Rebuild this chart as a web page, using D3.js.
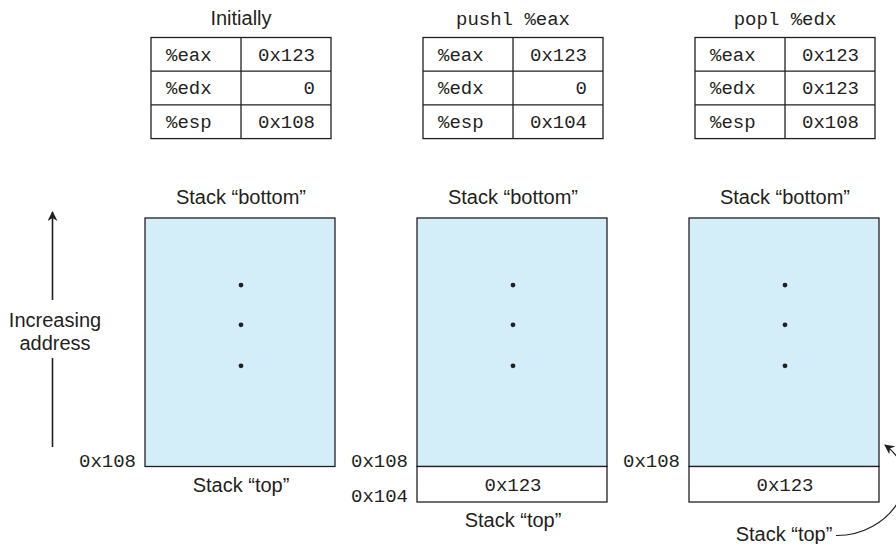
<!DOCTYPE html>
<html>
<head>
<meta charset="utf-8">
<script src="https://cdn.jsdelivr.net/npm/d3@7"></script>
<style>
  body { margin: 0; background: #fff; }
  svg { display: block; }
</style>
</head>
<body>
<div id="chart"></div>
<script>
// data
const steps = ["Initially", "pushl %eax", "popl %edx"];
const stepIsCode = [false, true, true];
const registers = ["%eax", "%edx", "%esp"];
const regValues = [
    ["0x123", "0", "0x108"],
    ["0x123", "0", "0x104"],
    ["0x123", "0x123", "0x108"],
];
// what sits below the stack region in each step: [address, value] or null
const pushedCell = [null, ["0x104", "0x123"], ["0x104", "0x123"]];
const addrLabels = [["0x108"], ["0x108", "0x104"], ["0x108"]];
const topLabelAddr = ["0x108", "0x104", null];
const stackBaseAddr = 0x124;

const width = 896, height = 544;
const ink = "#231f20";
const blue = "#d3edf9";
const sans = "'Liberation Sans', Arial, sans-serif";
const mono = "'Liberation Mono', 'DejaVu Sans Mono', monospace";
const sansSize = "20px", monoSize = "19px";

const svg = d3.select("#chart")
    .append("svg")
    .attr("width", width)
    .attr("height", height);

// panel centers
const x = d3.scaleBand()
    .domain(steps)
    .range([105, 921]);
const cx = d => x(d) + x.bandwidth() / 2;

// address -> y
const y = d3.scaleLinear()
    .domain([0x104, stackBaseAddr])
    .range([502, 218]);

// register tables
const tableW = 180, rowH = 33.7, tableTop = 37.5, colSplit = 90;

steps.forEach((s, i) => {
    const g = svg.append("g")
        .attr("transform", `translate(${cx(s) - tableW / 2}, ${tableTop})`);

    svg.append("text")
        .attr("x", cx(s))
        .attr("y", 25)
        .attr("text-anchor", "middle")
        .style("font-family", stepIsCode[i] ? mono : sans)
        .style("font-size", stepIsCode[i] ? monoSize : sansSize)
        .style("fill", ink)
        .text(s);

    g.append("rect")
        .attr("width", tableW)
        .attr("height", rowH * registers.length)
        .attr("fill", "none")
        .attr("stroke", ink)
        .attr("stroke-width", 1.3);

    g.append("line")
        .attr("x1", colSplit).attr("x2", colSplit)
        .attr("y1", 0).attr("y2", rowH * registers.length)
        .attr("stroke", ink).attr("stroke-width", 1.3);

    g.selectAll("line.row")
        .data(registers.slice(1))
        .join("line")
        .attr("class", "row")
        .attr("x1", 0).attr("x2", tableW)
        .attr("y1", (d, j) => rowH * (j + 1))
        .attr("y2", (d, j) => rowH * (j + 1))
        .attr("stroke", ink).attr("stroke-width", 1.3);

    g.selectAll("text.reg")
        .data(registers)
        .join("text")
        .attr("class", "reg")
        .attr("x", 15)
        .attr("y", (d, j) => rowH * j + 23)
        .style("font-family", mono)
        .style("font-size", monoSize)
        .style("fill", ink)
        .text(d => d);

    g.selectAll("text.val")
        .data(regValues[i])
        .join("text")
        .attr("class", "val")
        .attr("x", tableW - 16)
        .attr("y", (d, j) => rowH * j + 23)
        .attr("text-anchor", "end")
        .style("font-family", mono)
        .style("font-size", monoSize)
        .style("fill", ink)
        .text(d => d);
});

// stacks
const stackW = 190;

steps.forEach((s, i) => {
    const left = cx(s) - stackW / 2 - 1;

    svg.append("text")
        .attr("x", cx(s))
        .attr("y", 204)
        .attr("text-anchor", "middle")
        .style("font-family", sans)
        .style("font-size", sansSize)
        .style("fill", ink)
        .text("Stack \u201cbottom\u201d");

    svg.append("rect")
        .attr("x", left)
        .attr("y", y(stackBaseAddr))
        .attr("width", stackW)
        .attr("height", y(0x108) - y(stackBaseAddr))
        .attr("fill", blue)
        .attr("stroke", ink)
        .attr("stroke-width", 1.3);

    // ellipsis dots
    svg.selectAll(null)
        .data([0.27, 0.43, 0.595])
        .join("circle")
        .attr("cx", cx(s))
        .attr("cy", f => y(stackBaseAddr) + f * (y(0x108) - y(stackBaseAddr)))
        .attr("r", 2.4)
        .attr("fill", ink);

    if (pushedCell[i]) {
        const a = parseInt(pushedCell[i][0], 16);
        svg.append("rect")
            .attr("x", left)
            .attr("y", y(a + 4))
            .attr("width", stackW)
            .attr("height", y(a) - y(a + 4))
            .attr("fill", "#fff")
            .attr("stroke", ink)
            .attr("stroke-width", 1.3);
        svg.append("text")
            .attr("x", cx(s))
            .attr("y", (y(a) + y(a + 4)) / 2 + 6.5)
            .attr("text-anchor", "middle")
            .style("font-family", mono)
            .style("font-size", monoSize)
            .style("fill", ink)
            .text(pushedCell[i][1]);
    }

    svg.selectAll(null)
        .data(addrLabels[i])
        .join("text")
        .attr("x", left - 9)
        .attr("y", d => y(parseInt(d, 16)))
        .attr("text-anchor", "end")
        .style("font-family", mono)
        .style("font-size", monoSize)
        .style("fill", ink)
        .text(d => d);

    if (topLabelAddr[i]) {
        svg.append("text")
            .attr("x", cx(s))
            .attr("y", y(parseInt(topLabelAddr[i], 16)) + 25)
            .attr("text-anchor", "middle")
            .style("font-family", sans)
            .style("font-size", sansSize)
            .style("fill", ink)
            .text("Stack \u201ctop\u201d");
    }
});

// last panel: top label with curved pointer
const defs = svg.append("defs");
defs.append("marker")
    .attr("id", "head")
    .attr("viewBox", "0 0 10 10")
    .attr("refX", 9).attr("refY", 5)
    .attr("markerWidth", 10).attr("markerHeight", 10)
    .attr("markerUnits", "userSpaceOnUse")
    .attr("orient", "auto")
    .append("path")
    .attr("d", "M0,0 L10,5 L0,10 L3,5 Z")
    .attr("fill", ink);

svg.append("text")
    .attr("x", 784)
    .attr("y", 541)
    .attr("text-anchor", "middle")
    .style("font-family", sans)
    .style("font-size", sansSize)
    .style("fill", ink)
    .text("Stack \u201ctop\u201d");

const lp = d3.path();
lp.moveTo(836, 535.5);
lp.bezierCurveTo(890, 536, 930, 478, 885, 445);
svg.append("path")
    .attr("d", lp.toString())
    .attr("fill", "none")
    .attr("stroke", ink)
    .attr("stroke-width", 1.2)
    .attr("marker-end", "url(#head)");

// increasing address arrow
const ax = 52.5;
svg.append("line")
    .attr("x1", ax).attr("x2", ax)
    .attr("y1", 300).attr("y2", 212)
    .attr("stroke", ink).attr("stroke-width", 1.6)
    .attr("marker-end", "url(#head)");
svg.append("line")
    .attr("x1", ax).attr("x2", ax)
    .attr("y1", 358).attr("y2", 447)
    .attr("stroke", ink).attr("stroke-width", 1.6);

svg.append("text")
    .attr("x", 55)
    .attr("text-anchor", "middle")
    .style("font-family", sans)
    .style("font-size", sansSize)
    .style("fill", ink)
    .selectAll("tspan")
    .data(["Increasing", "address"])
    .join("tspan")
    .attr("x", 55)
    .attr("y", (d, j) => 327 + j * 23)
    .text(d => d);
</script>
</body>
</html>
